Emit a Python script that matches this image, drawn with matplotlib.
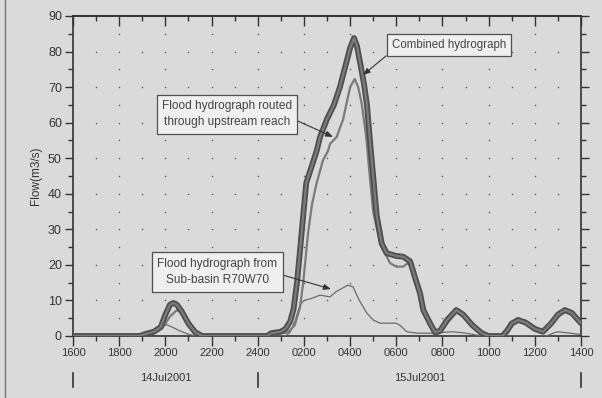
import numpy as np
import matplotlib
matplotlib.use('Agg')
import matplotlib.pyplot as plt
from matplotlib.lines import Line2D

plt.rcParams['font.family'] = ['Liberation Sans', 'DejaVu Sans']

# hours since 1600 on 14Jul2001
tick_labels = ['1600', '1800', '2000', '2200', '2400', '0200', '0400',
               '0600', '0800', '1000', '1200', '1400']
date_labels = ['14Jul2001', '15Jul2001']
date_bounds = [0, 8, 22]

comb_t = [0, 2.9, 3.1, 3.5, 3.8, 4.0, 4.2, 4.35, 4.5, 4.7, 5.0, 5.3, 5.6,
          8.4, 8.6, 9.0, 9.2, 9.4, 9.55, 9.7, 9.83, 10.0, 10.1, 10.3, 10.55,
          10.7, 11.0, 11.3, 11.56, 11.8, 12.0, 12.17, 12.3, 12.43, 12.6,
          12.73, 12.9, 13.0, 13.15, 13.37, 13.58, 14.0, 14.3, 14.6, 14.88,
          15.03, 15.17, 15.46, 15.68, 15.9, 16.2, 16.6, 16.9, 17.3, 17.7,
          18.0, 18.6, 18.8, 19.0, 19.27, 19.6, 20.0, 20.35, 20.7, 21.0,
          21.3, 21.6, 22.0]
comb_q = [0, 0, 0.5, 1.2, 2.5, 6, 8.8, 9.3, 8.8, 7, 3.5, 1, 0,
          0, 0.8, 1.2, 2, 4, 7.5, 15, 24, 36, 43, 47, 52,
          56, 61, 65, 70, 76, 81, 83.8, 81.5, 77, 71,
          65, 52, 45, 34, 26, 23.3, 22.5, 22.3, 21, 15,
          12, 7.3, 3.6, 1, 1.5, 4.5, 7.3, 6, 3, 0.8,
          0, 0, 1.5, 3.5, 4.5, 3.8, 2, 1.2, 3.5, 6,
          7.3, 6.5, 3.6]

rout_t = [0, 3.1, 3.5, 3.9, 4.2, 4.5, 4.8, 5.1, 5.4, 5.6,
          8.5, 8.8, 9.3, 9.6, 9.83, 9.97, 10.18, 10.35, 10.55, 10.83,
          11.04, 11.13, 11.42, 11.7, 12.0, 12.2, 12.35, 12.5, 12.7, 12.85,
          13.0, 13.3, 13.73, 14.0, 14.3, 14.5, 14.7, 14.88, 15.03, 15.17,
          15.46, 15.68, 15.9, 16.2, 16.6, 16.9, 17.3, 17.7, 18.0, 18.6,
          18.8, 19.0, 19.27, 19.6, 20.0, 20.35, 20.7, 21.0, 21.3, 21.6, 22.0]
rout_q = [0, 0, 0.8, 2.5, 5.5, 7.3, 6, 3, 1, 0,
          0, 0.6, 1, 3, 8, 15, 29, 37, 43, 49.5,
          52, 54, 56, 61, 70, 72.3, 70, 65.5, 56, 45,
          35, 26, 20.5, 19.5, 19.5, 20.5, 19, 14, 11, 6.5,
          3, 0.5, 0.8, 3.5, 6.8, 5.5, 2.8, 0.7, 0, 0,
          1.5, 3.5, 4.3, 3.6, 1.8, 1, 3.3, 5.8, 7, 6.2, 3.4]

sub_t = [0, 3.0, 3.3, 3.7, 4.05, 4.3, 4.6, 5.0, 5.3, 9.2, 9.4, 9.6, 9.83,
         10.0, 10.3, 10.7, 11.13, 11.4, 11.9, 12.13, 12.4, 12.72, 13.0,
         13.3, 14.0, 14.2, 14.45, 14.9, 15.5, 16.0, 16.45, 17.0, 17.7,
         20.5, 20.8, 21.0, 21.5, 22.0]
sub_q = [0, 0, 0.8, 2, 3.2, 2.5, 1.5, 0.5, 0, 0, 1, 4, 8.7,
         10, 10.5, 11.5, 11, 12.5, 14.3, 13.8, 10, 6.5, 4.5,
         3.6, 3.6, 2.8, 1.2, 0.8, 0.8, 1, 1.2, 0.8, 0,
         0, 0.8, 1.2, 0.8, 0.4]

bg = '#dadada'
ink = '#333333'
fig = plt.figure(figsize=(6.02, 3.98), dpi=100, facecolor=bg)
ax = fig.add_axes([73 / 602, 62 / 398, 508 / 602, 320 / 398], facecolor=bg)

# dotted grid: dots only at grid crossings
major_x = np.arange(0, 23, 2)
minor_x = np.arange(0, 23, 1)
gx, gy = [], []
for x in minor_x[1:-1]:
    for y in range(5, 90, 5):
        if y % 10 == 0 or x % 2 == 0:
            gx.append(x)
            gy.append(y)
ax.scatter(gx, gy, s=1.2, color='#555555', zorder=1, linewidths=0)

ax.plot(sub_t, sub_q, color='#6a6a6a', lw=0.9, zorder=3)
ax.plot(rout_t, rout_q, color='#7a7a7a', lw=1.6, zorder=4)
ax.plot(comb_t, comb_q, color='#4e4e4e', lw=4.2, zorder=5, solid_capstyle='round')
ax.plot(comb_t, comb_q, color='#7c7c7c', lw=1.6, zorder=6)

ax.set_xlim(0, 22)
ax.set_ylim(0, 90)
ax.set_xticks(major_x)
ax.set_xticklabels(tick_labels, fontsize=8)
ax.set_xticks(minor_x, minor=True)
ax.set_yticks(np.arange(0, 91, 10))
ax.set_yticks(np.arange(0, 91, 5), minor=True)
ax.tick_params(axis='y', which='major', labelsize=9, length=6, width=1, direction='out',
               right=True, pad=2, colors=ink)
ax.tick_params(axis='y', which='minor', length=3.5, width=1, direction='out',
               right=True, colors=ink)
ax.tick_params(axis='x', which='major', length=7, width=1, direction='out', pad=2,
               colors=ink)
ax.tick_params(axis='x', which='minor', length=3.5, width=1, direction='out', colors=ink)
for sp in ax.spines.values():
    sp.set_color(ink)
    sp.set_linewidth(1.2)

# top ticks point inward
top = ax.secondary_xaxis('top')
top.set_xticks(major_x)
top.set_xticks(minor_x, minor=True)
top.tick_params(axis='x', which='major', direction='in', length=7, width=1,
                labeltop=False, colors=ink)
top.tick_params(axis='x', which='minor', direction='in', length=3.5, width=1,
                colors=ink)
top.spines['top'].set_color(ink)
top.spines['top'].set_linewidth(1.2)

ax.set_ylabel('Flow(m3/s)', fontsize=8.5, color=ink)
ax.yaxis.set_label_coords(-0.062, 0.5)

# date row under the time axis
trans = ax.get_xaxis_transform()
for b in date_bounds:
    ax.plot([b, b], [-0.115, -0.16], transform=trans, color=ink, lw=1.2,
            clip_on=False)
for i, lab in enumerate(date_labels):
    ax.text((date_bounds[i] + date_bounds[i + 1]) / 2, -0.132, lab, transform=trans,
            ha='center', va='center', fontsize=8, color=ink)

box = dict(boxstyle='square,pad=0.45', fc='#efefef', ec='#505050', lw=0.9)
arrow = dict(arrowstyle='-|>,head_length=0.5,head_width=0.2', color=ink,
             lw=0.8, shrinkA=0, shrinkB=0)
ax.annotate('Combined hydrograph', xy=(12.56, 73.4), xytext=(16.28, 81.8),
            fontsize=8.3, ha='center', va='center', color='#444444', bbox=box,
            arrowprops=dict(arrow, relpos=(0, 0)), zorder=8)
ax.annotate('Flood hydrograph routed\nthrough upstream reach', xy=(11.26, 56),
            xytext=(6.67, 62.4), fontsize=8.6, ha='center', va='center',
            color='#444444', bbox=box, linespacing=1.5,
            arrowprops=dict(arrow, relpos=(1, 0.35)), zorder=8)
ax.annotate('Flood hydrograph from\nSub-basin R70W70', xy=(11.17, 13.2),
            xytext=(6.24, 18.0), fontsize=8.6, ha='center', va='center',
            color='#444444', bbox=box, linespacing=1.5,
            arrowprops=dict(arrow, relpos=(1, 0.45)), zorder=8)

fig.add_artist(Line2D([5 / 602, 5 / 602], [0, 1], color='#777777', lw=1))

fig.savefig('out.png', dpi=100, facecolor=bg)
